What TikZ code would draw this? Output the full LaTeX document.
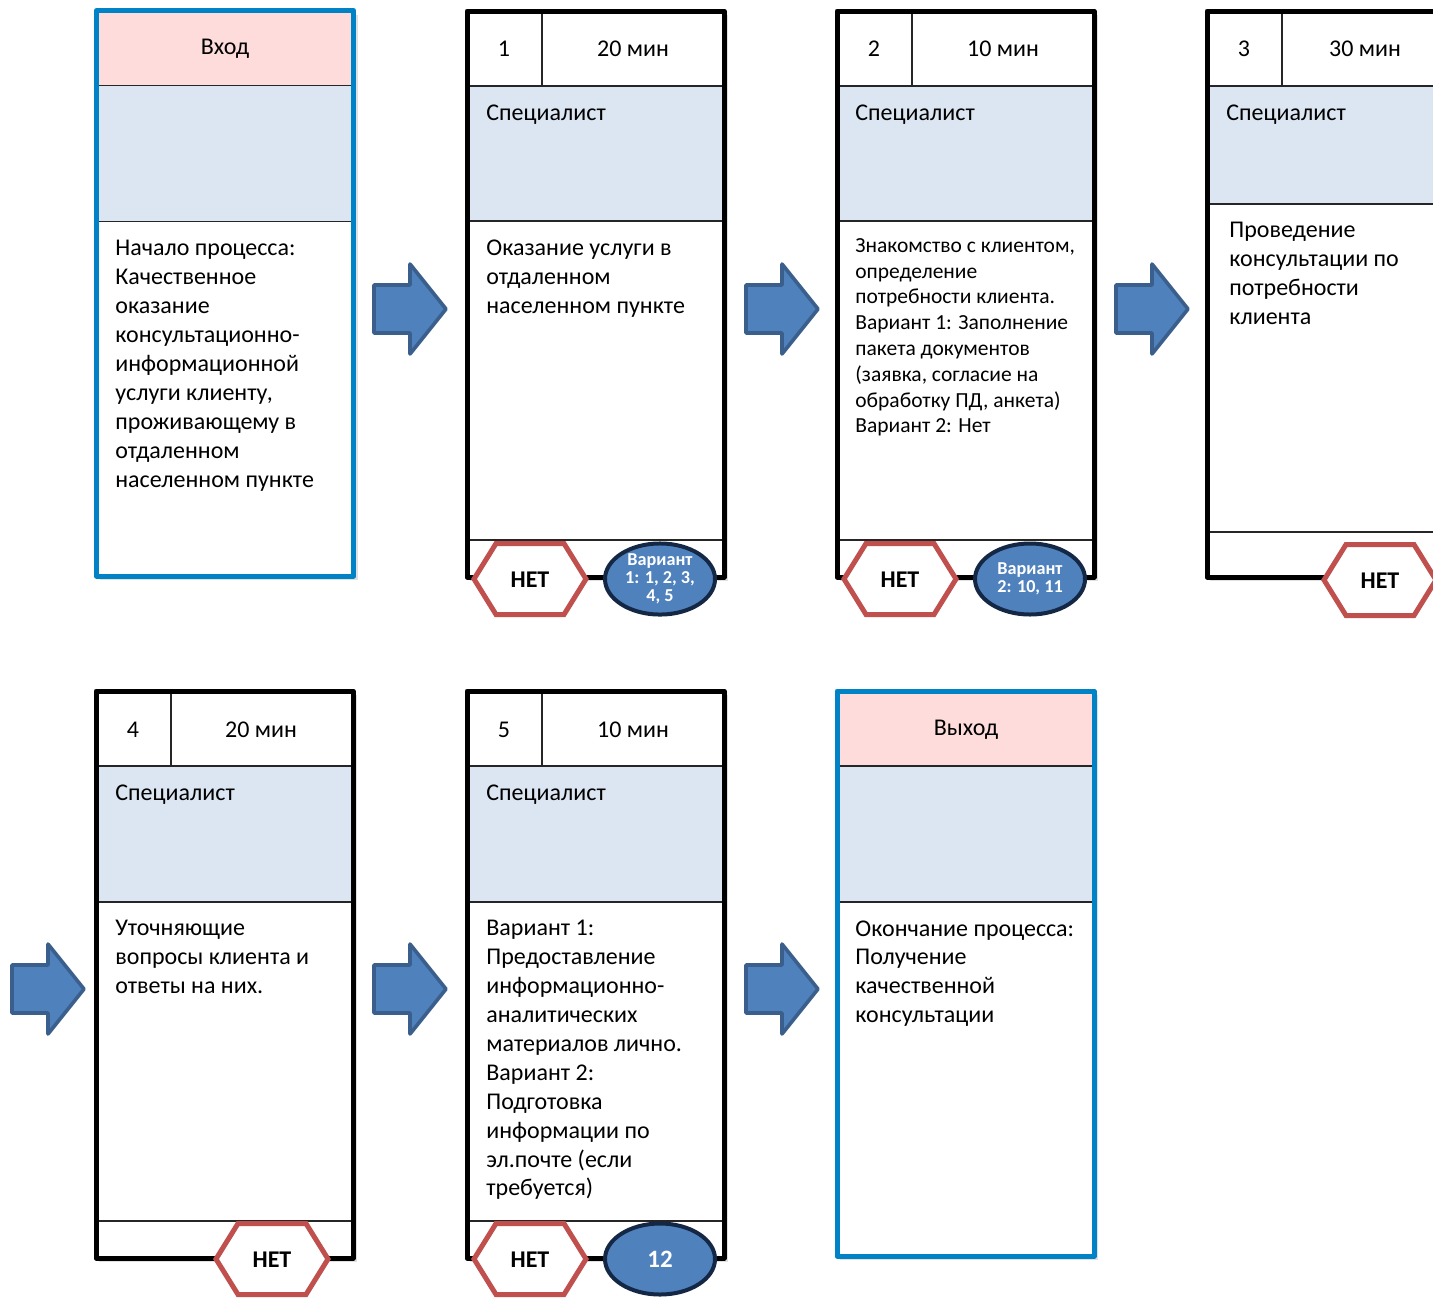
\documentclass[tikz,border=0pt]{standalone}
\usepackage{fontspec}
\setmainfont{Carlito}
\usetikzlibrary{shapes.geometric}
\definecolor{pinkband}{RGB}{255,220,220}
\definecolor{blueband}{RGB}{220,230,242}
\definecolor{iocol}{RGB}{0,130,198}
\definecolor{arrfill}{RGB}{79,129,189}
\definecolor{arrdraw}{RGB}{58,95,140}
\definecolor{hexred}{RGB}{192,80,77}
\definecolor{ellnavy}{RGB}{20,40,70}
\tikzset{
  cardb/.style={line width=2.5pt,black,line join=round},
  iob/.style={line width=2.5pt,iocol,line join=round},
  thinl/.style={line width=0.6pt,black!85},
  shadowc/.style={fill=black,opacity=0.12},
  hexst/.style={line width=2.5pt,hexred,fill=white,line join=miter},
  ellst/.style={ellipse,line width=2pt,draw=ellnavy,fill=arrfill,minimum width=55pt,minimum height=35.5pt,inner sep=0pt,text=white,font=\fontsize{9.1}{9}\selectfont\bfseries,align=center},
  arrst/.style={line width=1.8pt,draw=arrdraw,fill=arrfill,line join=round},
  hdr/.style={font=\fontsize{12}{14}\selectfont,inner sep=0pt},
  bodytxt/.style={font=\fontsize{12}{14.45}\selectfont,inner sep=0pt,anchor=north west,align=left},
  smalltxt/.style={font=\fontsize{10.75}{12.9}\selectfont,inner sep=0pt,anchor=north west,align=left},
  nettxt/.style={font=\fontsize{12}{13}\selectfont\bfseries,inner sep=0pt},
  barrow/.pic={\draw[arrst] (0,-24) -- (36,-24) -- (36,-45) -- (72,0) -- (36,45) -- (36,24) -- (0,24) -- cycle;},
  nethex/.pic={\draw[hexst] (-56,0) -- (-34,-35.5) -- (34,-35.5) -- (56,0) -- (34,35.5) -- (-34,35.5) -- cycle;
     \node[nettxt] (-t) at (0,1) {НЕТ};}
}
% #1 left, #2 top, #3 blue bottom, #4 thin line, #5 bottom, #6 right
\newcommand{\procard}[6]{%
  \fill[shadowc] (#1+3,#2+4) rectangle (#6+4,#5+4);
  \fill[white] (#1,#2) rectangle (#6,#5);
  \fill[blueband] (#1,#2+75) rectangle (#6,#3);
  \draw[thinl] (#1,#2+75) -- (#6,#2+75) (#1,#3) -- (#6,#3) (#1,#4) -- (#6,#4) (#1+75,#2) -- (#1+75,#2+75);
  \draw[cardb] (#1,#2) rectangle (#6,#5);
}
% #1 left, #2 top, #3 bottom, #4 right
\newcommand{\iocard}[4]{%
  \fill[shadowc] (#1+3,#2+4) rectangle (#4+4,#3+4);
  \fill[white] (#1,#2) rectangle (#4,#3);
  \fill[pinkband] (#1,#2) rectangle (#4,#2+75);
  \fill[blueband] (#1,#2+75) rectangle (#4,#2+211);
  \draw[thinl] (#1,#2+75) -- (#4,#2+75) (#1,#2+211) -- (#4,#2+211);
  \draw[iob] (#1,#2) rectangle (#4,#3);
}
\begin{document}
\begin{tikzpicture}[x=0.5pt,y=-0.5pt]
\useasboundingbox (0,0) rectangle (1433,1298);
\clip (0,0) rectangle (1433,1298);
\fill[white] (0,0) rectangle (1433,1298);

% ---- Row 1 ----
\iocard{96.5}{10.5}{576}{353.5}
\node[hdr] (in) at (225,49) {Вход};
\node[bodytxt] (t0) at (115,240) {Начало процесса:\\Качественное\\оказание\\консультационно-\\информационной\\услуги клиенту,\\проживающему в\\отдаленном\\населенном пункте};

\procard{467}{11}{221}{540}{577}{724}
\node[hdr] (n1) at (504,49) {1};
\node[hdr] (m1) at (633,49) {20 мин};
\node[hdr,anchor=base west] (s1) at (486,120) {Специалист};
\node[bodytxt] (t1) at (486,240) {Оказание услуги в\\отдаленном\\населенном пункте};

\procard{837}{11}{221}{540}{577}{1094}
\node[hdr] (n2) at (874,49) {2};
\node[hdr] (m2) at (1003,49) {10 мин};
\node[hdr,anchor=base west] (s2) at (855,120) {Специалист};
\node[smalltxt] (t2) at (855,238) {Знакомство с клиентом,\\определение\\потребности клиента.\\Вариант 1: Заполнение\\пакета документов\\(заявка, согласие на\\обработку ПД, анкета)\\Вариант 2: Нет};

\procard{1207}{11}{204}{532}{577}{1467}
\node[hdr] (n3) at (1244,49) {3};
\node[hdr] (m3) at (1365,49) {30 мин};
\node[hdr,anchor=base west] (s3) at (1226,120) {Специалист};
\node[bodytxt] (t3) at (1229,222) {Проведение\\консультации по\\потребности\\клиента};

% badges row 1
\pic (h1) at (530,579) {nethex};
\node[ellst] (e1) at (660,579) {Вариант\\1: 1, 2, 3,\\4, 5};
\pic (h2) at (900,579) {nethex};
\node[ellst] (e2) at (1030,579) {Вариант\\2: 10, 11};
\pic (h3) at (1380,580) {nethex};

% arrows row 1
\pic at (374,309) {barrow};
\pic at (746,309) {barrow};
\pic at (1116,309) {barrow};

% ---- Row 2 ----
\procard{96}{691}{902}{1221}{1258}{353}
\node[hdr] (n4) at (133,730) {4};
\node[hdr] (m4) at (261,730) {20 мин};
\node[hdr,anchor=base west] (s4) at (115,800) {Специалист};
\node[bodytxt] (t4) at (115,920) {Уточняющие\\вопросы клиента и\\ответы на них.};

\procard{467}{691}{902}{1221}{1258}{724}
\node[hdr] (n5) at (504,730) {5};
\node[hdr] (m5) at (633,730) {10 мин};
\node[hdr,anchor=base west] (s5) at (486,800) {Специалист};
\node[bodytxt] (t5) at (486,920) {Вариант 1:\\Предоставление\\информационно-\\аналитических\\материалов лично.\\Вариант 2:\\Подготовка\\информации по\\эл.почте (если\\требуется)};

\iocard{837}{691}{1256}{1094}
\node[hdr] (out) at (966,730) {Выход};
\node[bodytxt] (t6) at (855,920) {Окончание процесса:\\Получение\\качественной\\консультации};

\pic (h4) at (272,1259) {nethex};
\pic (h5) at (530,1259) {nethex};
\node[ellst,font=\fontsize{12.5}{13}\selectfont\bfseries] (e5) at (660,1259) {12};

% arrows row 2
\pic at (12,989) {barrow};
\pic at (374,989) {barrow};
\pic at (746,989) {barrow};
\end{tikzpicture}
\end{document}
